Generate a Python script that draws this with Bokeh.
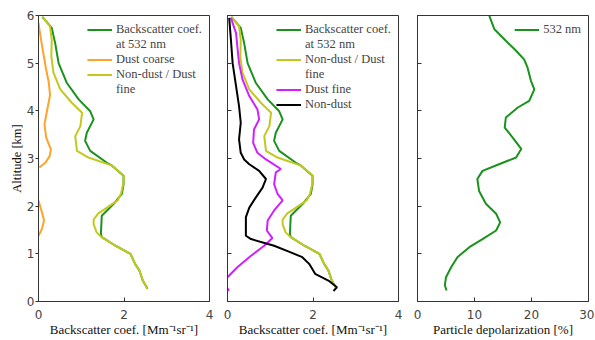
from bokeh.plotting import figure
from bokeh.layouts import row
from bokeh.models import Legend, LegendItem, FixedTicker, Range1d
from bokeh.embed import file_html
from bokeh.resources import INLINE

nan = float("nan")

# Backscatter coefficient at 532 nm (Mm-1 sr-1) vs altitude (km)
bsc_alt = [5.97, 5.74, 5.42, 5.00, 4.59, 4.24, 3.99, 3.82, 3.54, 3.37, 3.16, 2.91, 2.85, 2.64,
           2.46, 2.26, 2.05, 1.80, 1.42, 1.35, 1.17, 1.00, 0.79, 0.65, 0.44, 0.27]
bsc_val = [0.09, 0.31, 0.39, 0.47, 0.66, 0.94, 1.21, 1.29, 1.13, 1.09, 1.21, 1.60, 1.72, 1.99,
           1.99, 1.95, 1.76, 1.48, 1.46, 1.48, 1.80, 2.15, 2.26, 2.36, 2.44, 2.55]

# Non-dust / Dust fine
ndf_alt = [5.97, 5.77, 5.49, 5.14, 4.80, 4.45, 4.17, 3.96, 3.68, 3.47, 3.16, 3.02, 2.85, 2.64,
           2.46, 2.26, 2.12, 1.98, 1.85, 1.72, 1.62, 1.45, 1.35, 1.17, 1.00, 0.79, 0.65, 0.44, 0.27]
ndf_val = [0.09, 0.27, 0.31, 0.30, 0.35, 0.51, 0.78, 1.02, 0.98, 0.86, 0.90, 1.17, 1.72, 2.00,
           1.98, 1.93, 1.85, 1.62, 1.40, 1.29, 1.29, 1.36, 1.48, 1.80, 2.15, 2.26, 2.36, 2.44, 2.55]

# Dust coarse (gaps where value falls below zero)
dc_alt = [5.85, 5.72, 5.38, 4.91, 4.60, 4.33, 4.05, 3.72, 3.44, 3.19, 3.05, 2.92, 2.81,
          nan, 2.12, 1.84, 1.70, 1.52, 1.38]
dc_val = [0.00, 0.02, 0.08, 0.17, 0.24, 0.27, 0.21, 0.14, 0.18, 0.29, 0.26, 0.17, 0.02,
          nan, 0.00, 0.09, 0.13, 0.08, 0.00]

# Dust fine
df_alt = [5.95, 5.63, 5.35, 5.00, 4.66, 4.31, 4.03, 3.82, 3.61, 3.33, 3.12, 2.98, 2.78, 2.71,
          2.46, 2.26, 2.12, 1.91, 1.70, 1.49, 1.33, 1.17, 0.96, 0.72, 0.51, nan, 0.28, 0.22]
df_val = [0.08, 0.20, 0.23, 0.27, 0.35, 0.51, 0.70, 0.74, 0.62, 0.60, 0.70, 0.90, 1.25, 1.13,
          1.09, 1.17, 1.29, 1.09, 0.94, 0.92, 1.05, 0.86, 0.55, 0.23, 0.00, nan, 0.00, 0.03]

# Non-dust
nd_alt = [5.95, 5.49, 5.00, 4.52, 4.10, 3.75, 3.40, 3.12, 2.98, 2.88, 2.74, 2.57, 2.39, 2.18,
          1.97, 1.77, 1.38, 1.31, 1.17, 1.03, 0.93, 0.79, 0.58, 0.44, 0.30, 0.22]
nd_val = [0.04, 0.08, 0.12, 0.20, 0.27, 0.31, 0.27, 0.31, 0.39, 0.51, 0.74, 0.90, 0.82, 0.66,
          0.51, 0.43, 0.43, 0.55, 1.09, 1.48, 1.75, 1.91, 2.05, 2.36, 2.56, 2.48]

# Particle depolarization ratio at 532 nm (%)
pdr_alt = [5.99, 5.71, 5.47, 5.26, 5.08, 4.91, 4.63, 4.45, 4.21, 4.07, 3.86, 3.65, 3.44, 3.20,
           3.02, 2.88, 2.74, 2.57, 2.32, 2.05, 1.84, 1.66, 1.49, 1.31, 1.14, 0.93, 0.72, 0.51,
           0.34, 0.23]
pdr_val = [12.6, 13.5, 15.5, 17.3, 18.7, 19.3, 19.9, 20.5, 19.6, 17.6, 15.5, 15.3, 16.7, 18.2,
           17.3, 14.3, 11.4, 10.5, 10.8, 12.0, 13.8, 14.5, 13.8, 11.4, 9.1, 7.0, 5.9, 5.0,
           4.8, 5.1]

alt_ticks = [0, 1, 2, 3, 4, 5, 6]
bsc_ticks = [0, 2, 4]
pdr_ticks = [0, 10, 20, 30]

GREEN = "#1a921c"
YELLOW = "#c4c81e"
ORANGE = "#ffa42a"
PURPLE = "#d020ff"
BLACK = "#000000"
FRAME = "#333333"
SERIF = "Liberation Serif"


def make_fig(xmax, xticks, xlabel, left, right, first):
    p = figure(frame_width=171, frame_height=286,
               x_range=Range1d(0, xmax), y_range=Range1d(0, 6),
               output_backend="svg", toolbar_location=None,
               min_border_left=left, min_border_right=right,
               min_border_top=15, min_border_bottom=36)
    p.xgrid.visible = False
    p.ygrid.visible = False
    p.outline_line_color = FRAME
    p.outline_line_width = 1
    p.background_fill_color = "white"
    p.border_fill_color = "white"
    for ax in (p.xaxis[0], p.yaxis[0]):
        ax.axis_line_color = FRAME
        ax.major_tick_line_color = FRAME
        ax.minor_tick_line_color = None
        ax.major_label_text_font = "DejaVu Sans"
        ax.major_label_text_font_size = "12px"
        ax.major_label_text_color = "#444444"
        ax.axis_label_text_font = SERIF
        ax.axis_label_text_font_size = "13px"
        ax.axis_label_text_font_style = "normal"
        ax.axis_label_text_color = "#111111"
    xa = p.xaxis[0]
    xa.ticker = FixedTicker(ticks=xticks)
    xa.major_tick_in = 4
    xa.major_tick_out = 0
    xa.major_label_standoff = 8
    xa.axis_label = xlabel
    xa.axis_label_standoff = 0
    ya = p.yaxis[0]
    ya.ticker = FixedTicker(ticks=alt_ticks)
    if first:
        ya.major_tick_in = 0
        ya.major_tick_out = 3
        ya.major_label_standoff = 1
        ya.axis_label = "Altitude [km]"
        ya.axis_label_standoff = 0
        ya.axis_label_text_font_size = "12.5px"
    else:
        ya.major_tick_in = 4
        ya.major_tick_out = 0
        ya.major_label_standoff = 0
        ya.major_label_overrides = {t: "" for t in alt_ticks}
    return p


def add_legend(p, entries):
    items = []
    for label, r in entries:
        if r is None:
            r = p.line([], [], line_alpha=0)
        items.append(LegendItem(label=label, renderers=[r]))
    lg = Legend(items=items, location="top_right", margin=5, padding=2,
                spacing=0, glyph_width=25, glyph_height=15, label_height=15,
                label_standoff=4, label_text_font=SERIF,
                label_text_font_size="12.5px",
                background_fill_alpha=0, border_line_alpha=0)
    p.add_layout(lg)


bsc_label = "Backscatter coef. [Mm\u207b\u00b9sr\u207b\u00b9]"

# Panel 1
p1 = make_fig(4, bsc_ticks, bsc_label, 38, 5, True)
r1g = p1.line(bsc_val, bsc_alt, line_color=GREEN, line_width=2)
r1o = p1.line(dc_val, dc_alt, line_color=ORANGE, line_width=2)
r1y = p1.line(ndf_val, ndf_alt, line_color=YELLOW, line_width=2)
add_legend(p1, [("Backscatter coef.", r1g), ("at 532 nm", None),
                ("Dust coarse", r1o),
                ("Non-dust / Dust", r1y), ("fine", None)])

# Panel 2
p2 = make_fig(4, bsc_ticks, bsc_label, 13, 5, False)
r2g = p2.line(bsc_val, bsc_alt, line_color=GREEN, line_width=2)
r2y = p2.line(ndf_val, ndf_alt, line_color=YELLOW, line_width=2)
r2p = p2.line(df_val, df_alt, line_color=PURPLE, line_width=2)
r2k = p2.line(nd_val, nd_alt, line_color=BLACK, line_width=2)
add_legend(p2, [("Backscatter coef.", r2g), ("at 532 nm", None),
                ("Non-dust / Dust", r2y), ("fine", None),
                ("Dust fine", r2p), ("Non-dust", r2k)])

# Panel 3
p3 = make_fig(30, pdr_ticks, "Particle depolarization [%]", 14, 6, False)
r3g = p3.line(pdr_val, pdr_alt, line_color=GREEN, line_width=2)
add_legend(p3, [("532 nm", r3g)])

layout = row(p1, p2, p3)
open("out.html", "w").write(file_html(layout, INLINE))
